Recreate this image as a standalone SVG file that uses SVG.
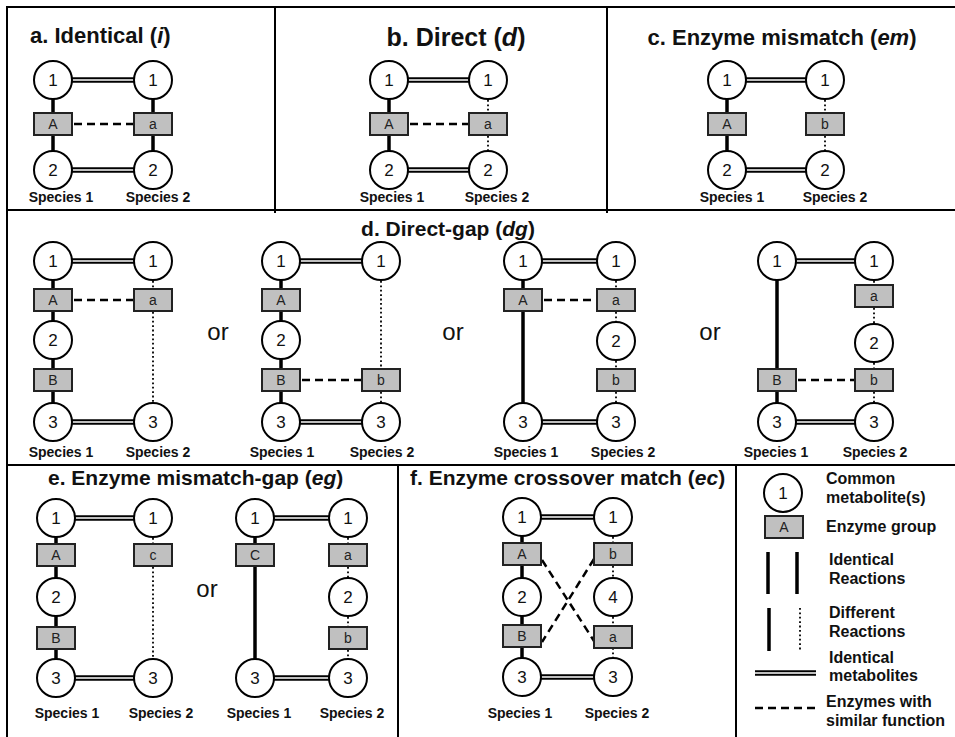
<svg xmlns="http://www.w3.org/2000/svg" width="955" height="737" viewBox="0 0 955 737">
<style>
text{font-family:"Liberation Sans",Arial,sans-serif;fill:#111}
.t{font-size:22px;font-weight:bold}
.sp{font-size:14px;font-weight:bold;text-anchor:middle}
.lg{font-size:16px;font-weight:bold}
.or{font-size:24px;text-anchor:middle}
.m text{font-size:17px;text-anchor:middle}
.e text{font-size:14px;text-anchor:middle;fill:#222}
.frame{stroke:#000;stroke-width:2;fill:none}
.same{stroke:#000;stroke-width:3.5}
.diff{stroke:#000;stroke-width:1.8;stroke-dasharray:1.8 2.6}
.dblb{stroke:#000;stroke-width:5.5}
.dblw{stroke:#fff;stroke-width:1.6}
.sim{stroke:#000;stroke-width:2.5;stroke-dasharray:8 5;fill:none}
</style>
<defs>
<circle id="circ" cx="0" cy="0" r="19" fill="#fff" stroke="#000" stroke-width="2"/>
<rect id="box" x="-19" y="-11" width="38" height="22" fill="#c0c0c0" stroke="#222" stroke-width="2"/>
</defs>
<rect width="955" height="737" fill="#fff"/>
<g id="frame" class="frame">
<line x1="7" y1="7" x2="955" y2="7"/>
<line x1="7" y1="6" x2="7" y2="737"/>
<line x1="7" y1="210" x2="955" y2="210"/>
<line x1="7" y1="465" x2="955" y2="465"/>
<line x1="275" y1="7" x2="275" y2="213"/>
<line x1="607" y1="7" x2="607" y2="213"/>
<line x1="398" y1="465" x2="398" y2="737"/>
<line x1="736" y1="465" x2="736" y2="737"/>
</g>
<g id="titles">
<text class="t" x="30" y="43">a. Identical (<tspan font-style="italic">i</tspan>)</text>
<text class="t" x="456" y="46" text-anchor="middle" style="font-size:25px">b. Direct (<tspan font-style="italic">d</tspan>)</text>
<text class="t" x="782" y="45" text-anchor="middle">c. Enzyme mismatch (<tspan font-style="italic">em</tspan>)</text>
<text class="t" x="448" y="236" text-anchor="middle" style="font-size:21px">d. Direct-gap (<tspan font-style="italic">dg</tspan>)</text>
<text class="t" x="48" y="485" style="font-size:21px">e. Enzyme mismatch-gap (<tspan font-style="italic">eg</tspan>)</text>
<text class="t" x="410" y="485" style="font-size:21px">f. Enzyme crossover match (<tspan font-style="italic">ec</tspan>)</text>
</g>
<g id="connectors">
<!-- panel a -->
<line class="same" x1="53" y1="99" x2="53" y2="113"/><line class="same" x1="53" y1="135" x2="53" y2="151"/>
<line class="same" x1="153" y1="99" x2="153" y2="113"/><line class="same" x1="153" y1="135" x2="153" y2="151"/>
<line class="dblb" x1="72" y1="80" x2="134" y2="80"/><line class="dblw" x1="72" y1="80" x2="134" y2="80"/>
<line class="dblb" x1="72" y1="170" x2="134" y2="170"/><line class="dblw" x1="72" y1="170" x2="134" y2="170"/>
<line class="sim" x1="74" y1="124" x2="133" y2="124"/>
<!-- panel b -->
<line class="same" x1="389" y1="99" x2="389" y2="113"/><line class="same" x1="389" y1="135" x2="389" y2="151"/>
<line class="diff" x1="488" y1="100" x2="488" y2="113"/><line class="diff" x1="488" y1="136" x2="488" y2="151"/>
<line class="dblb" x1="408" y1="80" x2="469" y2="80"/><line class="dblw" x1="408" y1="80" x2="469" y2="80"/>
<line class="dblb" x1="408" y1="170" x2="469" y2="170"/><line class="dblw" x1="408" y1="170" x2="469" y2="170"/>
<line class="sim" x1="410" y1="124" x2="468" y2="124"/>
<!-- panel c -->
<line class="same" x1="727" y1="99" x2="727" y2="113"/><line class="same" x1="727" y1="135" x2="727" y2="151"/>
<line class="diff" x1="825" y1="100" x2="825" y2="113"/><line class="diff" x1="825" y1="136" x2="825" y2="151"/>
<line class="dblb" x1="746" y1="80" x2="806" y2="80"/><line class="dblw" x1="746" y1="80" x2="806" y2="80"/>
<line class="dblb" x1="746" y1="170" x2="806" y2="170"/><line class="dblw" x1="746" y1="170" x2="806" y2="170"/>
<!-- d1 -->
<line class="same" x1="53" y1="280" x2="53" y2="289"/><line class="same" x1="53" y1="311" x2="53" y2="321"/>
<line class="same" x1="53" y1="359" x2="53" y2="369"/><line class="same" x1="53" y1="391" x2="53" y2="403"/>
<line class="diff" x1="153" y1="281" x2="153" y2="289"/><line class="diff" x1="153" y1="312" x2="153" y2="403"/>
<line class="dblb" x1="72" y1="261" x2="134" y2="261"/><line class="dblw" x1="72" y1="261" x2="134" y2="261"/>
<line class="dblb" x1="72" y1="422" x2="134" y2="422"/><line class="dblw" x1="72" y1="422" x2="134" y2="422"/>
<line class="sim" x1="74" y1="300" x2="133" y2="300"/>
<!-- d2 -->
<line class="same" x1="281" y1="280" x2="281" y2="289"/><line class="same" x1="281" y1="311" x2="281" y2="321"/>
<line class="same" x1="281" y1="359" x2="281" y2="369"/><line class="same" x1="281" y1="391" x2="281" y2="403"/>
<line class="diff" x1="381" y1="281" x2="381" y2="369"/><line class="diff" x1="381" y1="392" x2="381" y2="403"/>
<line class="dblb" x1="300" y1="261" x2="362" y2="261"/><line class="dblw" x1="300" y1="261" x2="362" y2="261"/>
<line class="dblb" x1="300" y1="422" x2="362" y2="422"/><line class="dblw" x1="300" y1="422" x2="362" y2="422"/>
<line class="sim" x1="302" y1="380" x2="361" y2="380"/>
<!-- d3 -->
<line class="same" x1="523" y1="280" x2="523" y2="289"/><line class="same" x1="523" y1="311" x2="523" y2="403"/>
<line class="diff" x1="616" y1="281" x2="616" y2="289"/><line class="diff" x1="616" y1="312" x2="616" y2="322"/>
<line class="diff" x1="616" y1="361" x2="616" y2="369"/><line class="diff" x1="616" y1="392" x2="616" y2="403"/>
<line class="dblb" x1="542" y1="261" x2="597" y2="261"/><line class="dblw" x1="542" y1="261" x2="597" y2="261"/>
<line class="dblb" x1="542" y1="422" x2="597" y2="422"/><line class="dblw" x1="542" y1="422" x2="597" y2="422"/>
<line class="sim" x1="544" y1="300" x2="596" y2="300"/>
<!-- d4 -->
<line class="same" x1="777" y1="280" x2="777" y2="369"/><line class="same" x1="777" y1="391" x2="777" y2="403"/>
<line class="diff" x1="874" y1="281" x2="874" y2="285"/><line class="diff" x1="874" y1="308" x2="874" y2="324"/>
<line class="diff" x1="874" y1="363" x2="874" y2="369"/><line class="diff" x1="874" y1="392" x2="874" y2="403"/>
<line class="dblb" x1="796" y1="261" x2="855" y2="261"/><line class="dblw" x1="796" y1="261" x2="855" y2="261"/>
<line class="dblb" x1="796" y1="422" x2="855" y2="422"/><line class="dblw" x1="796" y1="422" x2="855" y2="422"/>
<line class="sim" x1="798" y1="380" x2="854" y2="380"/>
<!-- e1 -->
<line class="same" x1="56" y1="537" x2="56" y2="544"/><line class="same" x1="56" y1="566" x2="56" y2="578"/>
<line class="same" x1="56" y1="616" x2="56" y2="627"/><line class="same" x1="56" y1="649" x2="56" y2="659"/>
<line class="diff" x1="153" y1="538" x2="153" y2="544"/><line class="diff" x1="153" y1="567" x2="153" y2="659"/>
<line class="dblb" x1="75" y1="518" x2="134" y2="518"/><line class="dblw" x1="75" y1="518" x2="134" y2="518"/>
<line class="dblb" x1="75" y1="678" x2="134" y2="678"/><line class="dblw" x1="75" y1="678" x2="134" y2="678"/>
<!-- e2 -->
<line class="same" x1="255" y1="537" x2="255" y2="544"/><line class="same" x1="255" y1="566" x2="255" y2="659"/>
<line class="diff" x1="348" y1="538" x2="348" y2="544"/><line class="diff" x1="348" y1="567" x2="348" y2="578"/>
<line class="diff" x1="348" y1="617" x2="348" y2="627"/><line class="diff" x1="348" y1="650" x2="348" y2="659"/>
<line class="dblb" x1="274" y1="518" x2="329" y2="518"/><line class="dblw" x1="274" y1="518" x2="329" y2="518"/>
<line class="dblb" x1="274" y1="678" x2="329" y2="678"/><line class="dblw" x1="274" y1="678" x2="329" y2="678"/>
<!-- f -->
<line class="same" x1="522" y1="536" x2="522" y2="543"/><line class="same" x1="522" y1="565" x2="522" y2="578"/>
<line class="same" x1="522" y1="616" x2="522" y2="625"/><line class="same" x1="522" y1="647" x2="522" y2="658"/>
<line class="diff" x1="613" y1="537" x2="613" y2="543"/><line class="diff" x1="613" y1="566" x2="613" y2="578"/>
<line class="diff" x1="613" y1="617" x2="613" y2="625"/><line class="diff" x1="613" y1="648" x2="613" y2="658"/>
<line class="dblb" x1="541" y1="517" x2="594" y2="517"/><line class="dblw" x1="541" y1="517" x2="594" y2="517"/>
<line class="dblb" x1="541" y1="677" x2="594" y2="677"/><line class="dblw" x1="541" y1="677" x2="594" y2="677"/>
<line class="sim" x1="542" y1="560" x2="594" y2="641"/>
<line class="sim" x1="594" y1="559" x2="542" y2="642"/>
</g>
<!-- panel a nodes -->
<g id="a-s1-m1" class="m"><use href="#circ" x="53" y="80"/><text x="53" y="86">1</text></g>
<g id="a-s1-eA" class="e"><use href="#box" x="53" y="124"/><text x="53" y="129">A</text></g>
<g id="a-s1-m2" class="m"><use href="#circ" x="53" y="170"/><text x="53" y="176">2</text></g>
<g id="a-s2-m1" class="m"><use href="#circ" x="153" y="80"/><text x="153" y="86">1</text></g>
<g id="a-s2-ea" class="e"><use href="#box" x="153" y="124"/><text x="153" y="129">a</text></g>
<g id="a-s2-m2" class="m"><use href="#circ" x="153" y="170"/><text x="153" y="176">2</text></g>
<!-- panel b nodes -->
<g id="b-s1-m1" class="m"><use href="#circ" x="389" y="80"/><text x="389" y="86">1</text></g>
<g id="b-s1-eA" class="e"><use href="#box" x="389" y="124"/><text x="389" y="129">A</text></g>
<g id="b-s1-m2" class="m"><use href="#circ" x="389" y="170"/><text x="389" y="176">2</text></g>
<g id="b-s2-m1" class="m"><use href="#circ" x="488" y="80"/><text x="488" y="86">1</text></g>
<g id="b-s2-ea" class="e"><use href="#box" x="488" y="124"/><text x="488" y="129">a</text></g>
<g id="b-s2-m2" class="m"><use href="#circ" x="488" y="170"/><text x="488" y="176">2</text></g>
<!-- panel c nodes -->
<g id="c-s1-m1" class="m"><use href="#circ" x="727" y="80"/><text x="727" y="86">1</text></g>
<g id="c-s1-eA" class="e"><use href="#box" x="727" y="124"/><text x="727" y="129">A</text></g>
<g id="c-s1-m2" class="m"><use href="#circ" x="727" y="170"/><text x="727" y="176">2</text></g>
<g id="c-s2-m1" class="m"><use href="#circ" x="825" y="80"/><text x="825" y="86">1</text></g>
<g id="c-s2-eb" class="e"><use href="#box" x="825" y="124"/><text x="825" y="129">b</text></g>
<g id="c-s2-m2" class="m"><use href="#circ" x="825" y="170"/><text x="825" y="176">2</text></g>
<!-- d1 nodes -->
<g id="d1-s1-m1" class="m"><use href="#circ" x="53" y="261"/><text x="53" y="267">1</text></g>
<g id="d1-s1-eA" class="e"><use href="#box" x="53" y="300"/><text x="53" y="305">A</text></g>
<g id="d1-s1-m2" class="m"><use href="#circ" x="53" y="340"/><text x="53" y="346">2</text></g>
<g id="d1-s1-eB" class="e"><use href="#box" x="53" y="380"/><text x="53" y="385">B</text></g>
<g id="d1-s1-m3" class="m"><use href="#circ" x="53" y="422"/><text x="53" y="428">3</text></g>
<g id="d1-s2-m1" class="m"><use href="#circ" x="153" y="261"/><text x="153" y="267">1</text></g>
<g id="d1-s2-ea" class="e"><use href="#box" x="153" y="300"/><text x="153" y="305">a</text></g>
<g id="d1-s2-m3" class="m"><use href="#circ" x="153" y="422"/><text x="153" y="428">3</text></g>
<!-- d2 nodes -->
<g id="d2-s1-m1" class="m"><use href="#circ" x="281" y="261"/><text x="281" y="267">1</text></g>
<g id="d2-s1-eA" class="e"><use href="#box" x="281" y="300"/><text x="281" y="305">A</text></g>
<g id="d2-s1-m2" class="m"><use href="#circ" x="281" y="340"/><text x="281" y="346">2</text></g>
<g id="d2-s1-eB" class="e"><use href="#box" x="281" y="380"/><text x="281" y="385">B</text></g>
<g id="d2-s1-m3" class="m"><use href="#circ" x="281" y="422"/><text x="281" y="428">3</text></g>
<g id="d2-s2-m1" class="m"><use href="#circ" x="381" y="261"/><text x="381" y="267">1</text></g>
<g id="d2-s2-eb" class="e"><use href="#box" x="381" y="380"/><text x="381" y="385">b</text></g>
<g id="d2-s2-m3" class="m"><use href="#circ" x="381" y="422"/><text x="381" y="428">3</text></g>
<!-- d3 nodes -->
<g id="d3-s1-m1" class="m"><use href="#circ" x="523" y="261"/><text x="523" y="267">1</text></g>
<g id="d3-s1-eA" class="e"><use href="#box" x="523" y="300"/><text x="523" y="305">A</text></g>
<g id="d3-s1-m3" class="m"><use href="#circ" x="523" y="422"/><text x="523" y="428">3</text></g>
<g id="d3-s2-m1" class="m"><use href="#circ" x="616" y="261"/><text x="616" y="267">1</text></g>
<g id="d3-s2-ea" class="e"><use href="#box" x="616" y="300"/><text x="616" y="305">a</text></g>
<g id="d3-s2-m2" class="m"><use href="#circ" x="616" y="341"/><text x="616" y="347">2</text></g>
<g id="d3-s2-eb" class="e"><use href="#box" x="616" y="380"/><text x="616" y="385">b</text></g>
<g id="d3-s2-m3" class="m"><use href="#circ" x="616" y="422"/><text x="616" y="428">3</text></g>
<!-- d4 nodes -->
<g id="d4-s1-m1" class="m"><use href="#circ" x="777" y="261"/><text x="777" y="267">1</text></g>
<g id="d4-s1-eB" class="e"><use href="#box" x="777" y="380"/><text x="777" y="385">B</text></g>
<g id="d4-s1-m3" class="m"><use href="#circ" x="777" y="422"/><text x="777" y="428">3</text></g>
<g id="d4-s2-m1" class="m"><use href="#circ" x="874" y="261"/><text x="874" y="267">1</text></g>
<g id="d4-s2-ea" class="e"><use href="#box" x="874" y="296"/><text x="874" y="301">a</text></g>
<g id="d4-s2-m2" class="m"><use href="#circ" x="874" y="343"/><text x="874" y="349">2</text></g>
<g id="d4-s2-eb" class="e"><use href="#box" x="874" y="380"/><text x="874" y="385">b</text></g>
<g id="d4-s2-m3" class="m"><use href="#circ" x="874" y="422"/><text x="874" y="428">3</text></g>
<!-- e1 nodes -->
<g id="e1-s1-m1" class="m"><use href="#circ" x="56" y="518"/><text x="56" y="524">1</text></g>
<g id="e1-s1-eA" class="e"><use href="#box" x="56" y="555"/><text x="56" y="560">A</text></g>
<g id="e1-s1-m2" class="m"><use href="#circ" x="56" y="597"/><text x="56" y="603">2</text></g>
<g id="e1-s1-eB" class="e"><use href="#box" x="56" y="638"/><text x="56" y="643">B</text></g>
<g id="e1-s1-m3" class="m"><use href="#circ" x="56" y="678"/><text x="56" y="684">3</text></g>
<g id="e1-s2-m1" class="m"><use href="#circ" x="153" y="518"/><text x="153" y="524">1</text></g>
<g id="e1-s2-ec" class="e"><use href="#box" x="153" y="555"/><text x="153" y="560">c</text></g>
<g id="e1-s2-m3" class="m"><use href="#circ" x="153" y="678"/><text x="153" y="684">3</text></g>
<!-- e2 nodes -->
<g id="e2-s1-m1" class="m"><use href="#circ" x="255" y="518"/><text x="255" y="524">1</text></g>
<g id="e2-s1-eC" class="e"><use href="#box" x="255" y="555"/><text x="255" y="560">C</text></g>
<g id="e2-s1-m3" class="m"><use href="#circ" x="255" y="678"/><text x="255" y="684">3</text></g>
<g id="e2-s2-m1" class="m"><use href="#circ" x="348" y="518"/><text x="348" y="524">1</text></g>
<g id="e2-s2-ea" class="e"><use href="#box" x="348" y="555"/><text x="348" y="560">a</text></g>
<g id="e2-s2-m2" class="m"><use href="#circ" x="348" y="597"/><text x="348" y="603">2</text></g>
<g id="e2-s2-eb" class="e"><use href="#box" x="348" y="638"/><text x="348" y="643">b</text></g>
<g id="e2-s2-m3" class="m"><use href="#circ" x="348" y="678"/><text x="348" y="684">3</text></g>
<!-- f nodes -->
<g id="f-s1-m1" class="m"><use href="#circ" x="522" y="517"/><text x="522" y="523">1</text></g>
<g id="f-s1-eA" class="e"><use href="#box" x="522" y="554"/><text x="522" y="559">A</text></g>
<g id="f-s1-m2" class="m"><use href="#circ" x="522" y="597"/><text x="522" y="603">2</text></g>
<g id="f-s1-eB" class="e"><use href="#box" x="522" y="636"/><text x="522" y="641">B</text></g>
<g id="f-s1-m3" class="m"><use href="#circ" x="522" y="677"/><text x="522" y="683">3</text></g>
<g id="f-s2-m1" class="m"><use href="#circ" x="613" y="517"/><text x="613" y="523">1</text></g>
<g id="f-s2-eb" class="e"><use href="#box" x="613" y="554"/><text x="613" y="559">b</text></g>
<g id="f-s2-m4" class="m"><use href="#circ" x="613" y="597"/><text x="613" y="603">4</text></g>
<g id="f-s2-ea" class="e"><use href="#box" x="613" y="637"/><text x="613" y="642">a</text></g>
<g id="f-s2-m3" class="m"><use href="#circ" x="613" y="677"/><text x="613" y="683">3</text></g>
<!-- labels -->
<g id="species-labels">
<text class="sp" x="61" y="202">Species 1</text><text class="sp" x="158" y="202">Species 2</text>
<text class="sp" x="392" y="202">Species 1</text><text class="sp" x="497" y="202">Species 2</text>
<text class="sp" x="732" y="202">Species 1</text><text class="sp" x="835" y="202">Species 2</text>
<text class="sp" x="61" y="457">Species 1</text><text class="sp" x="158" y="457">Species 2</text>
<text class="sp" x="282" y="457">Species 1</text><text class="sp" x="382" y="457">Species 2</text>
<text class="sp" x="526" y="457">Species 1</text><text class="sp" x="623" y="457">Species 2</text>
<text class="sp" x="776" y="457">Species 1</text><text class="sp" x="875" y="457">Species 2</text>
<text class="sp" x="67" y="718">Species 1</text><text class="sp" x="161" y="718">Species 2</text>
<text class="sp" x="259" y="718">Species 1</text><text class="sp" x="352" y="718">Species 2</text>
<text class="sp" x="520" y="718">Species 1</text><text class="sp" x="617" y="718">Species 2</text>
</g>
<g id="or-labels">
<text class="or" x="218" y="340">or</text>
<text class="or" x="453" y="340">or</text>
<text class="or" x="710" y="340">or</text>
<text class="or" x="207" y="597">or</text>
</g>
<!-- legend -->
<g id="legend-metabolite" class="m"><use href="#circ" x="783" y="493"/><text x="783" y="499">1</text></g>
<g id="legend-enzyme" class="e"><use href="#box" x="784" y="527"/><text x="784" y="532">A</text></g>
<g id="legend-lines">
<line class="same" x1="768" y1="552" x2="768" y2="594"/><line class="same" x1="797" y1="552" x2="797" y2="594"/>
<line class="same" x1="769" y1="608" x2="769" y2="651"/><line class="diff" x1="800" y1="608" x2="800" y2="651"/>
<line class="dblb" x1="755" y1="673" x2="816" y2="673"/><line class="dblw" x1="755" y1="673" x2="816" y2="673"/>
<line class="sim" x1="755" y1="708" x2="816" y2="708"/>
</g>
<g id="legend-text">
<text class="lg" x="826" y="484">Common</text><text class="lg" x="826" y="503">metabolite(s)</text>
<text class="lg" x="826" y="532">Enzyme group</text>
<text class="lg" x="829" y="565">Identical</text><text class="lg" x="829" y="584">Reactions</text>
<text class="lg" x="829" y="618">Different</text><text class="lg" x="829" y="637">Reactions</text>
<text class="lg" x="829" y="663">Identical</text><text class="lg" x="829" y="681">metabolites</text>
<text class="lg" x="826" y="707">Enzymes with</text><text class="lg" x="826" y="726">similar function</text>
</g>
</svg>
